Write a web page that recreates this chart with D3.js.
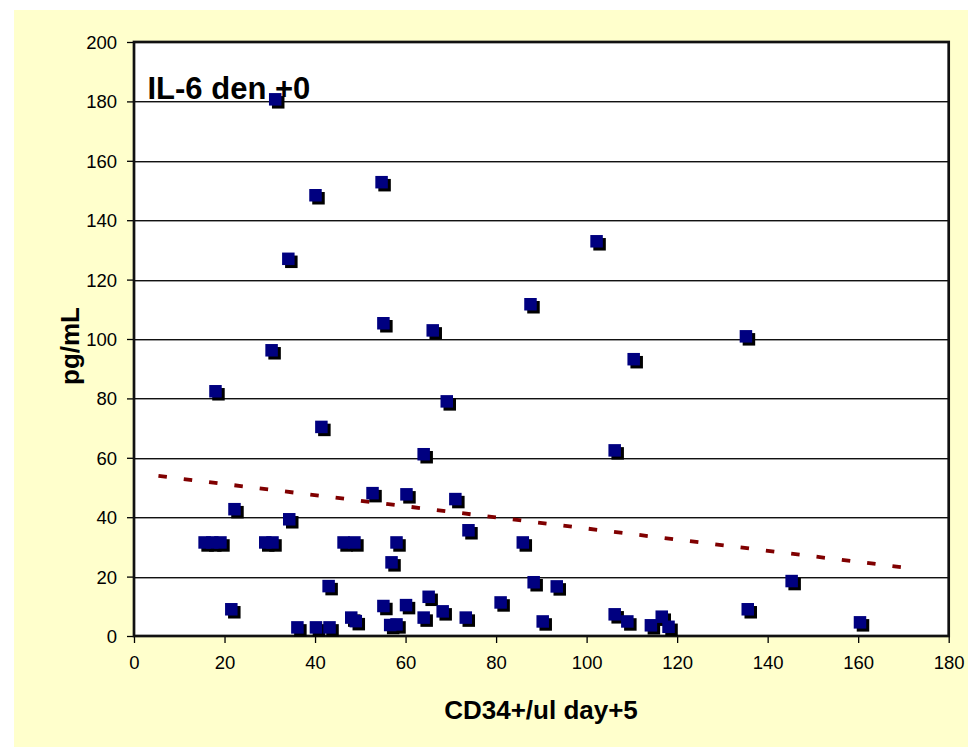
<!DOCTYPE html>
<html>
<head>
<meta charset="utf-8">
<script src="https://cdn.jsdelivr.net/npm/d3@7"></script>
<style>
  html, body { margin: 0; padding: 0; background: #ffffff; }
  svg { display: block; }
  text { font-family: "Liberation Sans", Arial, sans-serif; fill: #000; }
</style>
</head>
<body>
<svg id="chart" width="968" height="747"></svg>
<script>
// CD34+/ul on day +5 against IL-6 (pg/mL) at day +0
const cd34 = [31.2, 40.1, 54.7, 34.1, 102.2, 87.6, 55.1, 66.0, 135.2, 30.4,
              110.4, 18.0, 69.1, 41.4, 106.2, 64.0, 52.7, 60.2, 71.0, 22.2,
              34.3, 73.9, 15.6, 17.3, 19.1, 29.0, 30.6, 46.3, 48.7, 58.0,
              85.9, 56.9, 88.3, 145.3, 43.0, 93.4, 65.1, 81.0, 55.1, 60.1,
              21.5, 135.6, 68.2, 106.2, 48.0, 49.0, 64.0, 73.3, 116.6, 90.3,
              109.0, 160.4, 56.6, 58.0, 114.2, 118.1, 36.1, 40.2, 43.2];
const il6  = [180.7, 148.4, 152.8, 127.0, 132.9, 111.7, 105.3, 102.9, 100.9, 96.2,
              93.2, 82.4, 79.0, 70.4, 62.5, 61.2, 48.1, 47.7, 46.1, 42.7,
              39.3, 35.6, 31.5, 31.5, 31.5, 31.5, 31.5, 31.5, 31.5, 31.5,
              31.5, 24.8, 18.1, 18.5, 16.8, 16.7, 13.2, 11.3, 10.1, 10.4,
              9.0, 9.0, 8.3, 7.3, 6.2, 5.0, 6.2, 6.2, 6.5, 4.9,
              4.9, 4.6, 3.7, 3.9, 3.6, 3.1, 2.9, 2.9, 2.9];

// Linear trend line end points
const trendX = [5.4, 170.5];
const trendY = [53.9, 23.0];

const xTicks = [0, 20, 40, 60, 80, 100, 120, 140, 160, 180];
const yTicks = [0, 20, 40, 60, 80, 100, 120, 140, 160, 180, 200];

const chartTitle = "IL-6 den +0";
const xTitle = "CD34+/ul day+5";
const yTitle = "pg/mL";

const svg = d3.select("#chart");
const plotL = 134, plotR = 948.7, plotT = 42, plotB = 636;

const x = d3.scaleLinear().domain([0, 180]).range([plotL, plotR]);
const y = d3.scaleLinear().domain([0, 200]).range([plotB, plotT]);

// Outer panel
svg.append("rect")
  .attr("x", 14).attr("y", 10).attr("width", 968 - 14).attr("height", 747 - 10)
  .attr("fill", "#FFFFCC");

// Plot area
svg.append("rect")
  .attr("x", plotL).attr("y", plotT).attr("width", plotR - plotL).attr("height", plotB - plotT)
  .attr("fill", "#ffffff");

// Horizontal gridlines (dark line with a grey edge underneath)
const grid = svg.append("g");
yTicks.filter(v => v > 0 && v < 200).forEach(v => {
  grid.append("line")
    .attr("x1", plotL).attr("x2", plotR)
    .attr("y1", Math.round(y(v)) + 1.5).attr("y2", Math.round(y(v)) + 1.5)
    .attr("stroke", "#9a9a9a").attr("stroke-width", 1);
  grid.append("line")
    .attr("x1", plotL).attr("x2", plotR)
    .attr("y1", Math.round(y(v)) + 0.5).attr("y2", Math.round(y(v)) + 0.5)
    .attr("stroke", "#111").attr("stroke-width", 1.2);
});

// Axes
const yAxis = d3.axisLeft(y).tickValues(yTicks).tickSize(7).tickPadding(10).tickFormat(d3.format("d"));
const xAxis = d3.axisBottom(x).tickValues(xTicks).tickSize(7).tickPadding(12).tickFormat(d3.format("d"));

const gy = svg.append("g").attr("transform", `translate(${plotL},0)`).call(yAxis);
const gx = svg.append("g").attr("transform", `translate(0,${plotB})`).call(xAxis);
[gx, gy].forEach(g => {
  g.select(".domain").remove();
  g.selectAll(".tick line").attr("stroke", "#000").attr("stroke-width", 1.3);
  g.selectAll(".tick text")
    .style("font-family", '"Liberation Sans", Arial, sans-serif')
    .style("font-size", "18.5px").attr("fill", "#000");
});
gy.selectAll(".tick text").attr("dy", "0.35em");
gx.selectAll(".tick text").attr("dy", "0.75em");

// Plot border
svg.append("rect")
  .attr("x", plotL).attr("y", plotT).attr("width", plotR - plotL).attr("height", plotB - plotT)
  .attr("fill", "none").attr("stroke", "#111").attr("stroke-width", 2.7);

// Trend line
svg.append("line")
  .attr("x1", x(trendX[0])).attr("y1", y(trendY[0]))
  .attr("x2", x(trendX[1])).attr("y2", y(trendY[1]))
  .attr("stroke", "#800000").attr("stroke-width", 3.8)
  .attr("stroke-dasharray", "8.5,17");

// Markers: black drop shadow then navy square
const pts = cd34.map((v, i) => ({ cx: v, cy: il6[i] }));
const ms = 12.5;
svg.append("g").selectAll("rect").data(pts).join("rect")
  .attr("x", d => x(d.cx) - ms / 2 + 3).attr("y", d => y(d.cy) - ms / 2 + 3)
  .attr("width", ms).attr("height", ms).attr("fill", "#000");
svg.append("g").selectAll("rect").data(pts).join("rect")
  .attr("x", d => x(d.cx) - ms / 2).attr("y", d => y(d.cy) - ms / 2)
  .attr("width", ms).attr("height", ms).attr("fill", "#000080");

// Titles
svg.append("text")
  .attr("x", 147.5).attr("y", 99)
  .style("font-size", "31px").style("font-weight", "bold")
  .text(chartTitle);

svg.append("text")
  .attr("x", 541).attr("y", 719)
  .attr("text-anchor", "middle")
  .style("font-size", "26px").style("font-weight", "bold")
  .text(xTitle);

svg.append("text")
  .attr("transform", "translate(79,346) rotate(-90)")
  .attr("text-anchor", "middle")
  .style("font-size", "26px").style("font-weight", "bold")
  .text(yTitle);
</script>
</body>
</html>
